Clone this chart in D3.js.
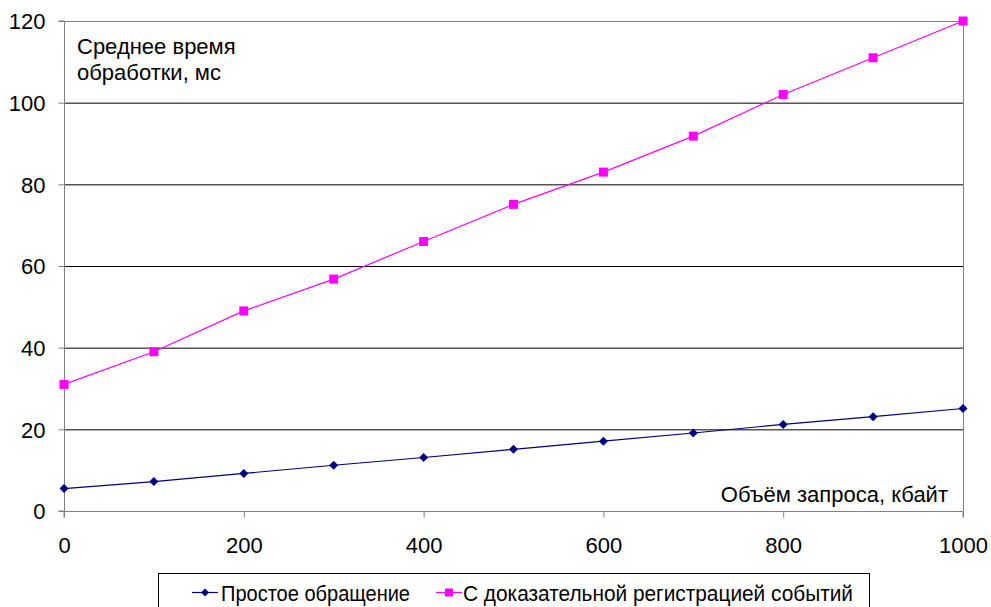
<!DOCTYPE html>
<html><head><meta charset="utf-8">
<script src="https://cdn.jsdelivr.net/npm/d3@7"></script>
<style>body{margin:0;background:#fff}svg{display:block;font-family:"Liberation Sans",Arial,sans-serif}</style>
</head><body><svg id="c" width="991" height="607"></svg>
<script>
const xValues = [0,100,200,300,400,500,600,700,800,900,1000];
const simpleValues = [5.5,7.2,9.2,11.2,13.1,15.1,17.1,19.1,21.2,23.1,25.1];
const loggedValues = [31,39,49,56.8,66,75.1,83,91.8,102,111,120];
const xTicks = [0,200,400,600,800,1000];
const yTicks = [0,20,40,60,80,100,120];
const seriesNames = ["Простое обращение","С доказательной регистрацией событий"];
const yTitle = ["Среднее время","обработки, мс"];
const xTitle = "Объём запроса, кбайт";

const FS = 22;
const svg = d3.select("#c");
const L=64,R=963,T=21,B=511;
const x = d3.scaleLinear().domain([0,1000]).range([L,R]);
const y = d3.scaleLinear().domain([0,120]).range([B,T]);

// gridlines
svg.append("g").selectAll("line").data(yTicks.filter(d=>d>0&&d<120)).join("line")
  .attr("x1",L).attr("x2",R).attr("y1",d=>y(d)+0.5).attr("y2",d=>y(d)+0.5)
  .attr("stroke","#000").attr("stroke-width",1);
// frame top/right gray
svg.append("path").attr("d",`M${L},${T+0.5}H${R+0.5}V${B}`).attr("fill","none").attr("stroke","#808080");

// axes
const ya = svg.append("g").attr("transform",`translate(${L+0.5},0)`)
  .call(d3.axisLeft(y).tickValues(yTicks).tickFormat(d3.format("d")).tickSize(6).tickPadding(10));
const xa = svg.append("g").attr("transform",`translate(0,${B+0.5})`)
  .call(d3.axisBottom(x).tickValues(xTicks).tickFormat(d3.format("d")).tickSize(6).tickPadding(20));
[ya,xa].forEach(a=>{
  a.select(".domain").attr("stroke","#808080");
  a.selectAll(".tick line").attr("stroke","#808080");
  a.selectAll("text").attr("font-size",FS).attr("fill","#000").attr("font-family","Liberation Sans, Arial, sans-serif");
});
ya.select(".domain").attr("d",`M-6,${T}H0V${B}H-6`);
xa.select(".domain").attr("d",`M${L},6V0H${R}V6`);
ya.selectAll(".tick text").attr("x",-19).attr("dy","0.35em");

// titles
svg.append("text").attr("x",77).attr("y",54).attr("font-size",FS).text(yTitle[0]);
svg.append("text").attr("x",77).attr("y",80).attr("font-size",FS).text(yTitle[1]);
svg.append("text").attr("x",948).attr("y",502).attr("font-size",FS).attr("text-anchor","end").text(xTitle);

const line = d3.line().x((d,i)=>x(xValues[i])).y(d=>y(d));
const colors = ["#000080","#ff00ff"];
// series
svg.append("path").datum(simpleValues).attr("d",line).attr("fill","none").attr("stroke",colors[0]).attr("stroke-width",1.2);
svg.append("path").datum(loggedValues).attr("d",line).attr("fill","none").attr("stroke",colors[1]).attr("stroke-width",1.2);
const diamond = s=>`M0,${-s}L${s},0L0,${s}L${-s},0Z`;
svg.append("g").selectAll("path").data(simpleValues).join("path")
  .attr("transform",(d,i)=>`translate(${x(xValues[i])},${y(d)})`).attr("d",diamond(4.5)).attr("fill",colors[0]);
svg.append("g").selectAll("rect").data(loggedValues).join("rect")
  .attr("x",(d,i)=>x(xValues[i])-4.5).attr("y",d=>y(d)-4.5).attr("width",9).attr("height",9).attr("fill",colors[1]);

// legend
svg.append("rect").attr("x",158.5).attr("y",573.5).attr("width",711).attr("height",40).attr("fill","#fff").attr("stroke","#000");
const lg = [{x:192,tx:221,w:189},{x:436,tx:463,w:390}];
lg.forEach((l,i)=>{
  svg.append("line").attr("x1",l.x).attr("x2",l.x+26).attr("y1",592.5).attr("y2",592.5).attr("stroke",colors[i]).attr("stroke-width",1.2);
  if(i===0) svg.append("path").attr("transform",`translate(${l.x+13},592.5)`).attr("d",diamond(4)).attr("fill",colors[0]);
  else svg.append("rect").attr("x",l.x+9).attr("y",588.5).attr("width",8).attr("height",8).attr("fill",colors[1]);
  svg.append("text").attr("x",l.tx).attr("y",601).attr("font-size",FS)
    .attr("textLength",l.w).attr("lengthAdjust","spacingAndGlyphs").text(seriesNames[i]);
});
</script></body></html>
